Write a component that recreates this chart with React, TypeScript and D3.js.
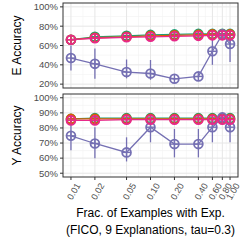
import * as d3 from "d3";

// fraction of examples with explanations
const fracs = [0.01, 0.02, 0.05, 0.1, 0.2, 0.4, 0.6, 0.8, 1.0];
const fracLabels = ["0.01", "0.02", "0.05", "0.10", "0.20", "0.40", "0.60", "0.80", "1.00"];

// E accuracy (%)
const eGreen = [66, 69, 70, 71, 71.5, 72, 72, 72, 72];
const eOrange = [66, 68, 69, 70, 70.5, 71, 71.5, 71.5, 71.5];
const ePink = [66, 67.5, 68.5, 69, 69.5, 70, 70.5, 70.5, 70.5];
const ePurple = [47, 41, 32.5, 31, 25.5, 28, 54, 71.5, 61.5];
const ePurpleLo = [34, 25.5, 26, 24.5, 24, 26, 40, 68, 43];
const ePurpleHi = [60, 57, 45.5, 45, 27, 30, 70, 75, 71.5];

// Y accuracy (%)
const yGreen = [86, 86.5, 86.5, 86.5, 86.5, 86.5, 86.5, 86.5, 86.5];
const yOrange = [86, 86, 86, 86, 86, 86, 86, 86, 86];
const yPink = [85, 85, 85.5, 85.5, 85.5, 85.5, 85.5, 85.5, 85.5];
const yPurple = [74.8, 69.7, 63.8, 80.5, 69.3, 69.3, 80.5, 87, 80.5];
const yPurpleLo = [65.3, 60, 57.8, 70.5, 60.5, 60.5, 70.5, 85, 70.5];
const yPurpleHi = [82.6, 80.4, 73.8, 88.2, 79.3, 79.3, 86, 89, 86];

const eTicks = [20, 40, 60, 80, 100];
const yTicks = [50, 60, 70, 80, 90, 100];

const GREEN = "#1B9E77", ORANGE = "#D95F02", PURPLE = "#7570B3", PINK = "#E7298A";

const x = d3.scaleLog().domain([Math.pow(10, -2.1), Math.pow(10, 0.1)]).range([63, 238]);

// minor breaks between majors (in log space)
const xMinor = fracs.slice(1).map((f, i) => Math.sqrt(f * fracs[i]));

const Panel = ({ y, ticks, minor, series, title }) => {
  const [r0, r1] = y.range();
  const x0 = x.range()[0], x1 = x.range()[1];
  const line = d3.line<number>().x((d, i) => x(fracs[i])).y(d => y(d));
  const marker = (cx, cy, col, key) => (
    <g key={key}>
      <circle cx={cx} cy={cy} r={4.4} fill="none" stroke={col} strokeWidth={1.8} />
      <line x1={cx - 4.4} x2={cx + 4.4} y1={cy} y2={cy} stroke={col} strokeWidth={1.4} />
      <line x1={cx} x2={cx} y1={cy - 4.4} y2={cy + 4.4} stroke={col} strokeWidth={1.4} />
    </g>
  );
  return (
    <g>
      <rect x={x0} y={r1} width={x1 - x0} height={r0 - r1} fill="white" />
      {minor.map(v => (
        <line key={"ym" + v} x1={x0} x2={x1} y1={y(v)} y2={y(v)} stroke="#f2f2f2" strokeWidth={0.6} />
      ))}
      {xMinor.map(v => (
        <line key={"xm" + v} x1={x(v)} x2={x(v)} y1={r1} y2={r0} stroke="#f2f2f2" strokeWidth={0.6} />
      ))}
      {ticks.map(v => (
        <line key={"yg" + v} x1={x0} x2={x1} y1={y(v)} y2={y(v)} stroke="#e6e6e6" strokeWidth={1} />
      ))}
      {fracs.map(v => (
        <line key={"xg" + v} x1={x(v)} x2={x(v)} y1={r1} y2={r0} stroke="#e6e6e6" strokeWidth={1} />
      ))}
      {series.map((s, si) => (
        <g key={"s" + si}>
          {s.lo && s.vals.map((v, i) => (
            <line key={"e" + i} x1={x(fracs[i])} x2={x(fracs[i])} y1={y(s.lo[i])} y2={y(s.hi[i])} stroke={s.col} strokeWidth={1.3} />
          ))}
          <path d={line(s.vals)} fill="none" stroke={s.col} strokeWidth={1.3} />
          {s.vals.map((v, i) => marker(x(fracs[i]), y(v), s.col, "m" + i))}
        </g>
      ))}
      <rect x={x0} y={r1} width={x1 - x0} height={r0 - r1} fill="none" stroke="#333" strokeWidth={1} />
      {ticks.map(v => (
        <g key={"yt" + v}>
          <line x1={x0 - 3} x2={x0} y1={y(v)} y2={y(v)} stroke="#333" />
          <text x={x0 - 5} y={y(v)} dy="0.35em" textAnchor="end" fontSize={9.5} fill="#4d4d4d">{v}%</text>
        </g>
      ))}
      <text transform={`translate(17,${(r0 + r1) / 2}) rotate(-90)`} textAnchor="middle" dy="0.35em" fontSize={12} fill="black">{title}</text>
    </g>
  );
};

export default function App() {
  const yE = d3.scaleLinear().domain([16, 104]).range([88, 3]);
  const yY = d3.scaleLinear().domain([47.5, 102.5]).range([177, 94]);
  const eSeries = [
    { vals: eGreen, col: GREEN },
    { vals: eOrange, col: ORANGE },
    { vals: ePurple, lo: ePurpleLo, hi: ePurpleHi, col: PURPLE },
    { vals: ePink, col: PINK },
  ];
  const ySeries = [
    { vals: yGreen, col: GREEN },
    { vals: yOrange, col: ORANGE },
    { vals: yPurple, lo: yPurpleLo, hi: yPurpleHi, col: PURPLE },
    { vals: yPink, col: PINK },
  ];
  return (
    <svg width={242} height={242} style={{ position: "absolute", left: 0, top: 0, fontFamily: "'Liberation Sans', Arial, sans-serif" }}>
      <rect width={242} height={242} fill="white" />
      <Panel y={yE} ticks={eTicks} minor={[30, 50, 70, 90]} series={eSeries} title="E Accuracy" />
      <Panel y={yY} ticks={yTicks} minor={[55, 65, 75, 85, 95]} series={ySeries} title="Y Accuracy" />
      {fracs.map((f, i) => (
        <g key={"xt" + f}>
          <line x1={x(f)} x2={x(f)} y1={177} y2={180} stroke="#333" />
          <text transform={`translate(${x(f) + 4},${182}) rotate(-60)`} textAnchor="end" dy="0.75em" fontSize={9} fill="#4d4d4d">{fracLabels[i]}</text>
        </g>
      ))}
      <text x={150.5} y={217} textAnchor="middle" fontSize={12} fill="black">Frac. of Examples with Exp.</text>
      <text x={150.5} y={234} textAnchor="middle" fontSize={12} fill="black">(FICO, 9 Explanations, tau=0.3)</text>
    </svg>
  );
}
